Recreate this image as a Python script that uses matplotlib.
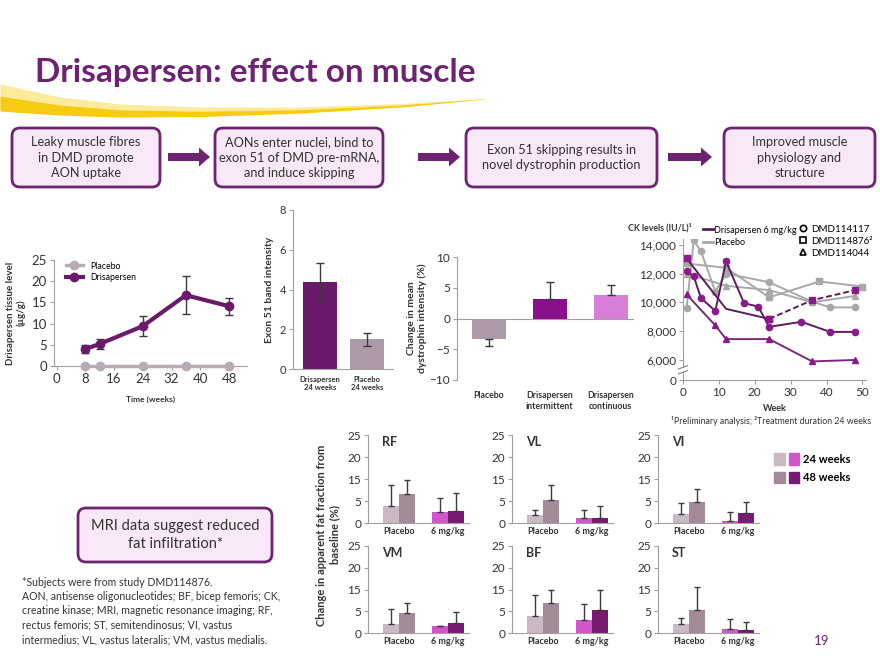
import numpy as np
import matplotlib
matplotlib.use("Agg")
import matplotlib.pyplot as plt
from matplotlib.patches import FancyBboxPatch, FancyArrow, Patch, Rectangle
from matplotlib.lines import Line2D
from matplotlib.legend_handler import HandlerTuple

plt.rcParams['font.family'] = ['Lato', 'DejaVu Sans']

# ---------------- data ----------------
# tissue level (ug/g)
tissue_wk = [8, 12, 24, 36, 48]
tissue_dris = [4.0, 5.2, 9.4, 16.7, 14.1]
tissue_err = [1.0, 1.2, 2.4, 4.5, 2.0]
tissue_plac = [0, 0, 0, 0, 0]

# exon 51 band intensity
exon_labels = ['Drisapersen\n24 weeks', 'Placebo\n24 weeks']
exon_vals = [4.4, 1.5]
exon_err = [0.95, 0.32]

# change in mean dystrophin intensity (%)
dys_labels = ['Placebo', 'Drisapersen\nintermittent', 'Drisapersen\ncontinuous']
dys_vals = [-3.4, 3.2, 3.9]
dys_err_lo = [1.0, 0, 0]
dys_err_hi = [0, 2.7, 1.6]

# CK levels (IU/L)
ck_d117_wk = [1, 3, 5, 9, 12, 17, 21, 24, 33, 41, 48]
ck_d117 = [12200, 11800, 10300, 9400, 12850, 9950, 9700, 8300, 8650, 7950, 7950]
ck_d876_wk = [1, 12, 24, 36, 48]
ck_d876 = [13050, 9550, 8850, 10150, 10850]
ck_d044_wk = [1, 9, 12, 24, 36, 48]
ck_d044 = [10550, 8400, 7450, 7450, 5900, 6000]
ck_p117_wk = [1, 3, 5, 9, 12, 24, 36, 41, 48]
ck_p117 = [9600, 14300, 13550, 10750, 12000, 11400, 10050, 9650, 9650]
ck_p876_wk = [1, 12, 24, 38, 50]
ck_p876 = [12700, 12400, 10350, 11450, 11100]
ck_p044_wk = [1, 12, 24, 36, 48]
ck_p044 = [12000, 11150, 10850, 10000, 10450]
ck_ticks = [4609, 6000, 8000, 10000, 12000, 14000]
ck_ticklabels = ['0', '6,000', '8,000', '10,000', '12,000', '14,000']

# MRI fat fraction, in axis tick steps (labels 0,5,15,20,25 equally spaced)
mri_names = ['RF', 'VL', 'VI', 'VM', 'BF', 'ST']
mri_groups = ['Placebo', '6 mg/kg']
mri_plac24 = [3.95, 1.76, 2.06, 2.06, 3.90, 2.12]
mri_plac48 = [6.57, 5.30, 4.78, 4.56, 6.98, 5.38]
mri_mg24 = [2.46, 1.10, 0.44, 1.69, 3.00, 0.98]
mri_mg48 = [2.83, 1.18, 2.28, 2.20, 5.37, 0.60]
mri_plac24_err = [4.7, 1.2, 2.5, 3.4, 4.8, 1.4]
mri_plac48_err = [3.2, 3.4, 3.0, 2.4, 2.9, 5.1]
mri_mg24_err = [3.2, 1.8, 2.0, 0.0, 3.6, 2.3]
mri_mg48_err = [3.9, 2.7, 2.5, 2.6, 4.5, 1.9]
mri_ticks = [0, 5, 10, 15, 20]
mri_ticklabels = ['0', '5', '15', '20', '25']

flow_texts = ['Leaky muscle fibres\nin DMD promote\nAON uptake',
              'AONs enter nuclei, bind to\nexon 51 of DMD pre-mRNA,\nand induce skipping',
              'Exon 51 skipping results in\nnovel dystrophin production',
              'Improved muscle\nphysiology and\nstructure']

# ---------------- colours ----------------
PURPLE = '#6E2272'
DRIS = '#6A1A6A'
PLAC_GREY = '#B9ABB3'
C_PL24 = '#CAB8C2'
C_PL48 = '#A38A98'
C_MG24 = '#D256C9'
C_MG48 = '#7A1B72'
TXT = '#333333'
ERR = '#3A3A3A'

W, H = 880, 660
fig = plt.figure(figsize=(8.8, 6.6), dpi=100)


def px_axes(l, t, r, b):
    return fig.add_axes([l / W, 1 - b / H, (r - l) / W, (b - t) / H])


def style(ax, size=8):
    for s in ['top', 'right']:
        ax.spines[s].set_visible(False)
    for s in ['left', 'bottom']:
        ax.spines[s].set_color('#A0A0A0')
        ax.spines[s].set_linewidth(0.8)
    ax.tick_params(colors='#A0A0A0', labelcolor=TXT, length=3, width=0.8,
                   labelsize=size, pad=2)
    ax.set_facecolor('none')


# ---------------- background: title, swoosh, boxes ----------------
bg = fig.add_axes([0, 0, 1, 1])
bg.set_xlim(0, W)
bg.set_ylim(H, 0)
bg.axis('off')

xs = np.linspace(0, 485, 300)
top = np.interp(xs, [0, 60, 120, 200, 300, 400, 485], [84, 97, 104, 107, 107, 103.5, 98.5])
bot = np.interp(xs, [0, 60, 120, 200, 300, 400, 485], [111, 115, 117, 116.5, 113, 107, 99])
bg.fill_between(xs, top, bot, color='#FCEB9A', lw=0)
bg.fill_between(xs, top + (bot - top) * 0.45, bot, color='#F7CB12', lw=0)

bg.text(35, 82, 'Drisapersen: effect on muscle', fontsize=24, fontweight='bold',
        color=PURPLE, va='baseline')

boxes = [(12, 160), (215, 383), (466, 657), (724, 875)]
for (l, r), t in zip(boxes, flow_texts):
    bg.add_patch(FancyBboxPatch((l, 128), r - l, 59, boxstyle='round,pad=0,rounding_size=8',
                                fc='#F8E8F8', ec=PURPLE, lw=2))
    bg.text((l + r) / 2, 157.5, t, ha='center', va='center', fontsize=9.2,
            color=TXT, linespacing=1.35)
for x0, x1 in [(168, 210), (418, 460), (668, 712)]:
    bg.add_patch(FancyArrow(x0, 157, x1 - x0, 0, width=8, head_width=19, head_length=11,
                            length_includes_head=True, color=PURPLE, lw=0))

bg.add_patch(FancyBboxPatch((78, 508), 194, 54, boxstyle='round,pad=0,rounding_size=8',
                            fc='#F8E8F8', ec=PURPLE, lw=2))
bg.text(175, 535, 'MRI data suggest reduced\nfat infiltration*', ha='center', va='center',
        fontsize=10.5, color=TXT, linespacing=1.3)

foot = ('*Subjects were from study DMD114876.\n'
        'AON, antisense oligonucleotides; BF, bicep femoris; CK,\n'
        'creatine kinase; MRI, magnetic resonance imaging; RF,\n'
        'rectus femoris; ST, semitendinosus; VI, vastus\n'
        'intermedius; VL, vastus lateralis; VM, vastus medialis.')
bg.text(22, 577, foot, ha='left', va='top', fontsize=7.6, color=TXT, linespacing=1.36)
bg.text(822, 641, '19', ha='center', va='center', fontsize=9.5, color=PURPLE)

# ---------------- panel 1: tissue level ----------------
ax1 = px_axes(54, 260, 247, 366)
style(ax1, 9.5)
ax1.plot(tissue_wk, tissue_plac, color=PLAC_GREY, lw=2.5, marker='o', ms=6,
         clip_on=False, zorder=3, label='Placebo')
ax1.errorbar(tissue_wk, tissue_dris, yerr=tissue_err, color=DRIS, lw=3, marker='o', ms=6,
             ecolor=ERR, elinewidth=1, capsize=3, zorder=4, label='Drisapersen')
ax1.set_xlim(-0.7, 53)
ax1.set_ylim(0, 25)
ax1.set_xticks([0, 8, 16, 24, 32, 40, 48])
ax1.set_yticks([0, 5, 10, 15, 20, 25])
ax1.set_xlabel('Time (weeks)', fontsize=6, fontweight='bold', color=TXT, labelpad=8)
ax1.set_ylabel('Drisapersen tissue level\n(µg/g)', fontsize=7, fontweight='bold',
               color=TXT, labelpad=4)
h, lab = ax1.get_legend_handles_labels()
ax1.legend([h[0], h[1][0]], lab, loc='upper left', bbox_to_anchor=(0.02, 1.06),
           frameon=False, fontsize=6.3, handlelength=2.0, labelspacing=0.3)

# ---------------- panel 2: exon 51 ----------------
ax2 = px_axes(293, 210, 393, 369)
style(ax2, 8)
ax2.bar([0, 1], exon_vals, width=0.72, color=[DRIS, '#AD9AA8'])
ax2.errorbar([0, 1], exon_vals, yerr=exon_err, fmt='none', ecolor=ERR, elinewidth=1, capsize=3)
ax2.set_xlim(-0.57, 1.55)
ax2.set_ylim(0, 8)
ax2.set_yticks([0, 2, 4, 6, 8])
ax2.set_xticks([0, 1])
ax2.set_xticklabels(exon_labels, fontsize=5.5, fontweight='bold')
ax2.tick_params(axis='x', length=0, pad=5)
ax2.set_ylabel('Exon 51 band intensity', fontsize=7.5, fontweight='bold', color=TXT)

# ---------------- panel 3: dystrophin ----------------
ax3 = px_axes(457, 257, 634, 380)
style(ax3, 8.5)
ax3.bar([0, 1, 2], dys_vals, width=0.56, color=['#AD9AA8', '#8B108B', '#D77FD6'])
ax3.errorbar([0, 1, 2], dys_vals, yerr=[dys_err_lo, dys_err_hi], fmt='none', ecolor=ERR,
             elinewidth=1, capsize=3)
ax3.axhline(0, color='#A0A0A0', lw=0.8, zorder=0)
ax3.spines['bottom'].set_visible(False)
ax3.set_xlim(-0.52, 2.38)
ax3.set_ylim(-10, 10)
ax3.set_yticks([-10, -5, 0, 5, 10])
ax3.set_yticklabels(['−10', '−5', '0', '5', '10'])
ax3.set_xticks([0, 1, 2])
ax3.set_xticklabels(dys_labels, fontsize=6.3, fontweight='bold')
ax3.tick_params(axis='x', length=0, pad=8)
ax3.set_ylabel('Change in mean\ndystrophin intensity (%)', fontsize=7.5, fontweight='bold',
               color=TXT, labelpad=2)

# ---------------- panel 4: CK levels ----------------
ax4 = px_axes(683, 239, 866, 380)
style(ax4, 8.5)
lk = dict(lw=1.4, ms=4.5)
ax4.plot(ck_p117_wk, ck_p117, color='#A8A8A8', marker='o', mfc='#A8A8A8', mec='#A8A8A8', **lk)
ax4.plot(ck_p876_wk, ck_p876, color='#A8A8A8', marker='s', mfc='#A8A8A8', mec='#A8A8A8', **lk)
ax4.plot(ck_p044_wk, ck_p044, color='#A8A8A8', marker='^', mfc='#A8A8A8', mec='#A8A8A8', **lk)
ax4.plot(ck_d117_wk, ck_d117, color='#5E1C5E', marker='o', mfc='#8A1A8A', mec='#8A1A8A', **lk)
ax4.plot(ck_d876_wk[:3], ck_d876[:3], color='#5E1C5E', marker='s', mfc='#8A1A8A',
         mec='#8A1A8A', markevery=[0, 2], **lk)
ax4.plot(ck_d876_wk[2:], ck_d876[2:], color='#5E1C5E', ls=(0, (3, 1.5)), marker='s',
         mfc='#8A1A8A', mec='#8A1A8A', **lk)
ax4.plot(ck_d044_wk, ck_d044, color='#7A2A7A', marker='^', mfc='#8A1A8A', mec='#8A1A8A', **lk)
ax4.set_xlim(0, 51)
ax4.set_ylim(ck_ticks[0], 14400)
ax4.set_yticks(ck_ticks)
ax4.set_yticklabels(ck_ticklabels)
ax4.set_xticks([0, 10, 20, 30, 40, 50])
ax4.set_xlabel('Week', fontsize=6.5, fontweight='bold', color=TXT, labelpad=4)
# axis break
ax4.add_patch(Rectangle((-0.03, 0.055), 0.06, 0.035, transform=ax4.transAxes, fc='white',
                        ec='none', clip_on=False, zorder=5))
for yb in (0.055, 0.09):
    ax4.plot([-0.025, 0.025], [yb - 0.012, yb + 0.012], transform=ax4.transAxes,
             color='#808080', lw=0.8, clip_on=False, zorder=6)
fig.text(628 / W, 1 - 228 / H, 'CK levels (IU/L)¹', fontsize=6.3, fontweight='bold',
         color=TXT, va='center')
fig.legend([Line2D([], [], color='#5E1C5E', lw=2), Line2D([], [], color='#A8A8A8', lw=2)],
           ['Drisapersen 6 mg/kg', 'Placebo'], loc='upper left',
           bbox_to_anchor=(699 / W, 1 - 222 / H), frameon=False, fontsize=6.5,
           handlelength=1.1, handletextpad=0.15, labelspacing=0.35, borderaxespad=0)
fig.legend([Line2D([], [], ls='none', marker=m, mfc='white', mec='black', ms=4.5, mew=1.2)
            for m in ['o', 's', '^']],
           ['DMD114117', 'DMD114876²', 'DMD114044'], loc='upper left',
           bbox_to_anchor=(796 / W, 1 - 221 / H), frameon=False, fontsize=7,
           handlelength=0.7, handletextpad=0.45, labelspacing=0.3, borderaxespad=0)
fig.text(771 / W, 1 - 421 / H, '¹Preliminary analysis; ²Treatment duration 24 weeks',
         fontsize=6.3, color=TXT, ha='center', va='center')

# ---------------- MRI panels ----------------
cols = [368, 512, 658]
rows = [(435, 523), (546, 633)]
gx = np.array([0, 1])
bw = 0.32
for i, name in enumerate(mri_names):
    l = cols[i % 3]
    t, b = rows[i // 3]
    ax = px_axes(l, t, l + 101, b)
    style(ax, 8.5)
    vals = [mri_plac24[i], mri_plac48[i], mri_mg24[i], mri_mg48[i]]
    errs = [mri_plac24_err[i], mri_plac48_err[i], mri_mg24_err[i], mri_mg48_err[i]]
    xpos = [gx[0] - bw / 2, gx[0] + bw / 2, gx[1] - bw / 2, gx[1] + bw / 2]
    ax.bar(xpos, vals, width=bw, color=[C_PL24, C_PL48, C_MG24, C_MG48])
    ax.errorbar(xpos, vals, yerr=[[0] * 4, errs], fmt='none', ecolor=ERR, elinewidth=1,
                capsize=2.5)
    ax.set_xlim(-0.63, 1.43)
    ax.set_ylim(0, 20)
    ax.set_yticks(mri_ticks)
    ax.set_yticklabels(mri_ticklabels)
    ax.set_xticks(gx)
    ax.set_xticklabels(mri_groups, fontsize=6.5, fontweight='bold')
    ax.tick_params(axis='x', length=0, pad=3)
    ax.text(0.14, 0.92, name, transform=ax.transAxes, fontsize=9, fontweight='bold',
            color=TXT, va='center')

fig.text(328 / W, 1 - 535 / H, 'Change in apparent fat fraction from\nbaseline (%)',
         rotation=90, fontsize=8, fontweight='bold', color=TXT, ha='center', va='center',
         linespacing=1.3)
fig.legend([(Patch(color=C_PL24), Patch(color=C_MG24)), (Patch(color=C_PL48), Patch(color=C_MG48))],
           ['24 weeks', '48 weeks'], handler_map={tuple: HandlerTuple(ndivide=None, pad=0.35)},
           loc='upper left', bbox_to_anchor=(770 / W, 1 - 449 / H), frameon=False,
           handlelength=2.2, handleheight=1.2, handletextpad=0.4,
           labelspacing=0.6, borderaxespad=0, prop={'weight': 'bold', 'size': 8})

fig.savefig('out.png', dpi=100)
